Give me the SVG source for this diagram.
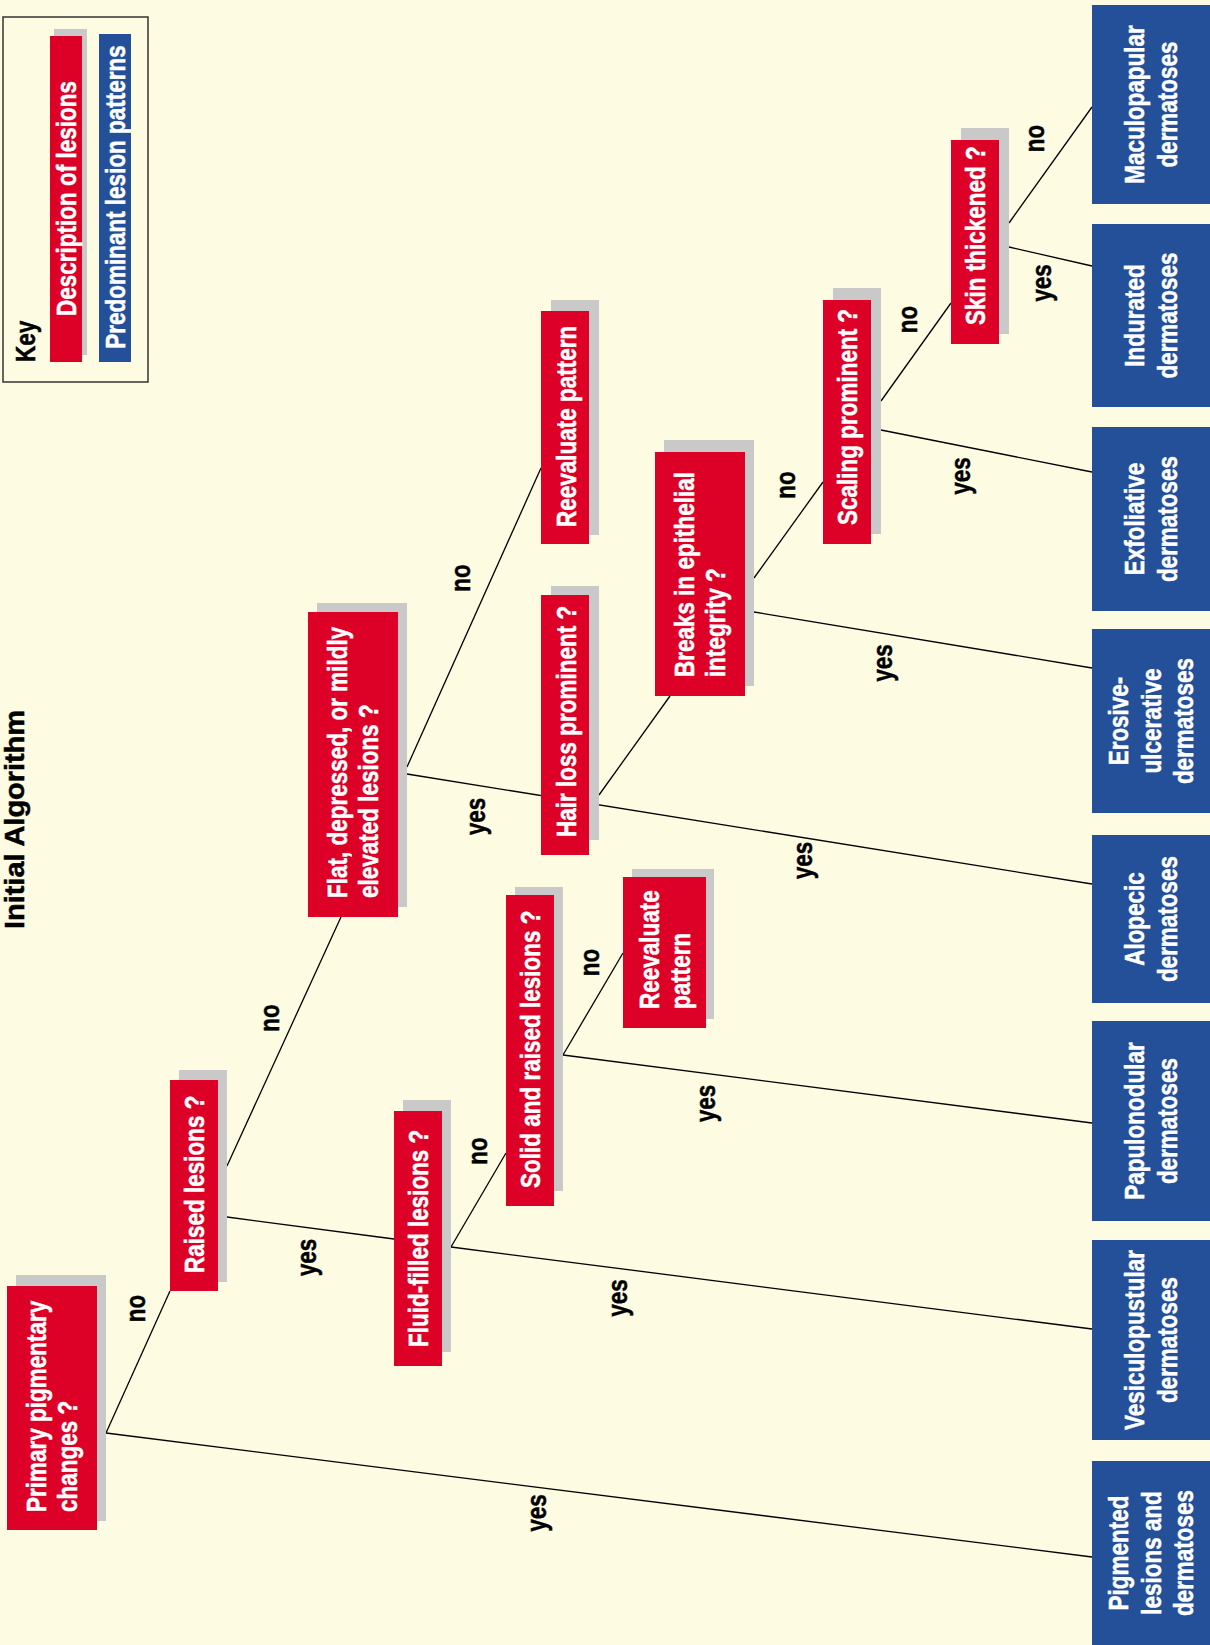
<svg xmlns="http://www.w3.org/2000/svg" width="1210" height="1645" viewBox="0 0 1210 1645">
<style>
.sh{fill:#c9c9c9}
.rd{fill:#dd0027}
.bl{fill:#24509a}
text{font-family:"Liberation Sans",Arial,sans-serif;font-weight:bold;font-size:27.5px;stroke-width:0.5px}
.w{fill:#fff;stroke:#fff}
.k{fill:#000;stroke:#000}
.m{text-anchor:middle}
.cn line{stroke:#000;stroke-width:1.3}
</style>
<rect x="0" y="0" width="1210" height="1645" fill="#fdfbe2"/>
<text class="k m" transform="translate(24,819.5) rotate(-90)" textLength="219" lengthAdjust="spacingAndGlyphs">Initial Algorithm</text>
<g id="key">
<rect x="3" y="17" width="145" height="365" fill="none" stroke="#333" stroke-width="1.5"/>
<text class="k" transform="translate(35,362) rotate(-90) scale(0.818,1)">Key</text>
<rect class="sh" x="54" y="29" width="33" height="326"/>
<rect class="rd" x="50" y="36" width="32" height="326"/>
<text class="w m" transform="translate(76,198.5) rotate(-90) scale(0.818,1)">Description of lesions</text>
<rect class="bl" x="99" y="34" width="32" height="328"/>
<text class="w m" transform="translate(125,197) rotate(-90) scale(0.818,1)">Predominant lesion patterns</text>
</g>
<g id="connectors" class="cn">
<line x1="106" y1="1433" x2="170" y2="1291"/>
<line x1="106" y1="1433" x2="1092" y2="1557"/>
<line x1="227" y1="1166" x2="341" y2="917"/>
<line x1="227" y1="1217" x2="394" y2="1239"/>
<line x1="451" y1="1247" x2="506" y2="1153"/>
<line x1="451" y1="1247" x2="1092" y2="1329"/>
<line x1="563" y1="1055" x2="623" y2="953"/>
<line x1="563" y1="1055" x2="1092" y2="1123"/>
<line x1="407" y1="767" x2="541" y2="468"/>
<line x1="407" y1="774" x2="1092" y2="884"/>
<line x1="599" y1="795" x2="670" y2="696"/>
<line x1="754" y1="578" x2="823" y2="482"/>
<line x1="754" y1="612" x2="1092" y2="668"/>
<line x1="881" y1="401" x2="951" y2="303"/>
<line x1="881" y1="430" x2="1092" y2="472"/>
<line x1="1009" y1="223" x2="1092" y2="107"/>
<line x1="1009" y1="247" x2="1092" y2="266"/>
</g>
<g id="labels">
<text class="k m" transform="translate(145,1308.5) rotate(-90) scale(0.818,1)">no</text>
<text class="k m" transform="translate(315.5,1257.5) rotate(-90) scale(0.818,1)">yes</text>
<text class="k m" transform="translate(279,1018) rotate(-90) scale(0.818,1)">no</text>
<text class="k m" transform="translate(545.5,1513) rotate(-90) scale(0.818,1)">yes</text>
<text class="k m" transform="translate(627,1298) rotate(-90) scale(0.818,1)">yes</text>
<text class="k m" transform="translate(487,1151) rotate(-90) scale(0.818,1)">no</text>
<text class="k m" transform="translate(599,962.5) rotate(-90) scale(0.818,1)">no</text>
<text class="k m" transform="translate(715,1103.5) rotate(-90) scale(0.818,1)">yes</text>
<text class="k m" transform="translate(484.5,816.5) rotate(-90) scale(0.818,1)">yes</text>
<text class="k m" transform="translate(470,578) rotate(-90) scale(0.818,1)">no</text>
<text class="k m" transform="translate(812,860.5) rotate(-90) scale(0.818,1)">yes</text>
<text class="k m" transform="translate(892,663) rotate(-90) scale(0.818,1)">yes</text>
<text class="k m" transform="translate(795,485) rotate(-90) scale(0.818,1)">no</text>
<text class="k m" transform="translate(970,476) rotate(-90) scale(0.818,1)">yes</text>
<text class="k m" transform="translate(917,319.5) rotate(-90) scale(0.818,1)">no</text>
<text class="k m" transform="translate(1044,138.5) rotate(-90) scale(0.818,1)">no</text>
<text class="k m" transform="translate(1051,283) rotate(-90) scale(0.818,1)">yes</text>
</g>
<g id="n-primary">
<rect class="sh" x="16" y="1275" width="90" height="246"/>
<rect class="rd" x="7" y="1286" width="90" height="244"/>
<text class="w" transform="translate(46,1512) rotate(-90) scale(0.818,1)">Primary pigmentary</text>
<text class="w" transform="translate(77,1512) rotate(-90) scale(0.818,1)">changes ?</text>
</g>
<g id="n-raised">
<rect class="sh" x="179" y="1070" width="48" height="212"/>
<rect class="rd" x="170" y="1080" width="48" height="211"/>
<text class="w" transform="translate(204,1273) rotate(-90) scale(0.818,1)">Raised lesions ?</text>
</g>
<g id="n-fluid">
<rect class="sh" x="403" y="1100" width="48" height="252"/>
<rect class="rd" x="394" y="1111" width="48" height="255"/>
<text class="w" transform="translate(428,1347) rotate(-90) scale(0.818,1)">Fluid-filled lesions ?</text>
</g>
<g id="n-solid">
<rect class="sh" x="515" y="887" width="48" height="304"/>
<rect class="rd" x="506" y="895" width="48" height="311"/>
<text class="w" transform="translate(540,1188) rotate(-90) scale(0.818,1)">Solid and raised lesions ?</text>
</g>
<g id="n-reeval2">
<rect class="sh" x="632" y="869" width="82" height="150"/>
<rect class="rd" x="623" y="877" width="83" height="151"/>
<text class="w" transform="translate(659,1009) rotate(-90) scale(0.818,1)">Reevaluate</text>
<text class="w" transform="translate(690,1009) rotate(-90) scale(0.818,1)">pattern</text>
</g>
<g id="n-flat">
<rect class="sh" x="317" y="603" width="90" height="304"/>
<rect class="rd" x="308" y="612" width="90" height="305"/>
<text class="w" transform="translate(347,898) rotate(-90) scale(0.818,1)">Flat, depressed, or mildly</text>
<text class="w" transform="translate(378,898) rotate(-90) scale(0.818,1)">elevated lesions ?</text>
</g>
<g id="n-hair">
<rect class="sh" x="551" y="586" width="48" height="254"/>
<rect class="rd" x="541" y="595" width="48" height="260"/>
<text class="w" transform="translate(576,837) rotate(-90) scale(0.818,1)">Hair loss prominent ?</text>
</g>
<g id="n-reeval1">
<rect class="sh" x="551" y="300" width="48" height="235"/>
<rect class="rd" x="541" y="311" width="48" height="233"/>
<text class="w" transform="translate(576,527) rotate(-90) scale(0.818,1)">Reevaluate pattern</text>
</g>
<g id="n-breaks">
<rect class="sh" x="664" y="440" width="90" height="246"/>
<rect class="rd" x="655" y="452" width="90" height="244"/>
<text class="w" transform="translate(694,677) rotate(-90) scale(0.818,1)">Breaks in epithelial</text>
<text class="w" transform="translate(725,677) rotate(-90) scale(0.818,1)">integrity ?</text>
</g>
<g id="n-scaling">
<rect class="sh" x="833" y="288" width="48" height="246"/>
<rect class="rd" x="823" y="300" width="48" height="244"/>
<text class="w" transform="translate(857,525) rotate(-90) scale(0.818,1)">Scaling prominent ?</text>
</g>
<g id="n-skin">
<rect class="sh" x="961" y="128" width="48" height="206"/>
<rect class="rd" x="951" y="140" width="48" height="204"/>
<text class="w" transform="translate(985,325) rotate(-90) scale(0.818,1)">Skin thickened ?</text>
</g>
<g id="p-maculopapular">
<rect class="bl" x="1092" y="5" width="118" height="199"/>
<text class="w m" transform="translate(1144,104.5) rotate(-90) scale(0.818,1)">Maculopapular</text>
<text class="w m" transform="translate(1177,104.5) rotate(-90) scale(0.818,1)">dermatoses</text>
</g>
<g id="p-indurated">
<rect class="bl" x="1092" y="224" width="118" height="183"/>
<text class="w m" transform="translate(1144,315.5) rotate(-90) scale(0.818,1)">Indurated</text>
<text class="w m" transform="translate(1177,315.5) rotate(-90) scale(0.818,1)">dermatoses</text>
</g>
<g id="p-exfoliative">
<rect class="bl" x="1092" y="427" width="118" height="184"/>
<text class="w m" transform="translate(1144,519) rotate(-90) scale(0.818,1)">Exfoliative</text>
<text class="w m" transform="translate(1177,519) rotate(-90) scale(0.818,1)">dermatoses</text>
</g>
<g id="p-erosive">
<rect class="bl" x="1092" y="629" width="118" height="184"/>
<text class="w m" transform="translate(1128,721) rotate(-90) scale(0.818,1)">Erosive-</text>
<text class="w m" transform="translate(1161,721) rotate(-90) scale(0.818,1)">ulcerative</text>
<text class="w m" transform="translate(1193,721) rotate(-90) scale(0.818,1)">dermatoses</text>
</g>
<g id="p-alopecic">
<rect class="bl" x="1092" y="835" width="118" height="168"/>
<text class="w m" transform="translate(1144,919) rotate(-90) scale(0.818,1)">Alopecic</text>
<text class="w m" transform="translate(1177,919) rotate(-90) scale(0.818,1)">dermatoses</text>
</g>
<g id="p-papulonodular">
<rect class="bl" x="1092" y="1021" width="118" height="200"/>
<text class="w m" transform="translate(1144,1121) rotate(-90) scale(0.818,1)">Papulonodular</text>
<text class="w m" transform="translate(1177,1121) rotate(-90) scale(0.818,1)">dermatoses</text>
</g>
<g id="p-vesiculopustular">
<rect class="bl" x="1092" y="1240" width="118" height="200"/>
<text class="w m" transform="translate(1144,1340) rotate(-90) scale(0.818,1)">Vesiculopustular</text>
<text class="w m" transform="translate(1177,1340) rotate(-90) scale(0.818,1)">dermatoses</text>
</g>
<g id="p-pigmented">
<rect class="bl" x="1092" y="1461" width="118" height="184"/>
<text class="w m" transform="translate(1128,1553) rotate(-90) scale(0.818,1)">Pigmented</text>
<text class="w m" transform="translate(1161,1553) rotate(-90) scale(0.818,1)">lesions and</text>
<text class="w m" transform="translate(1193,1553) rotate(-90) scale(0.818,1)">dermatoses</text>
</g>
</svg>
